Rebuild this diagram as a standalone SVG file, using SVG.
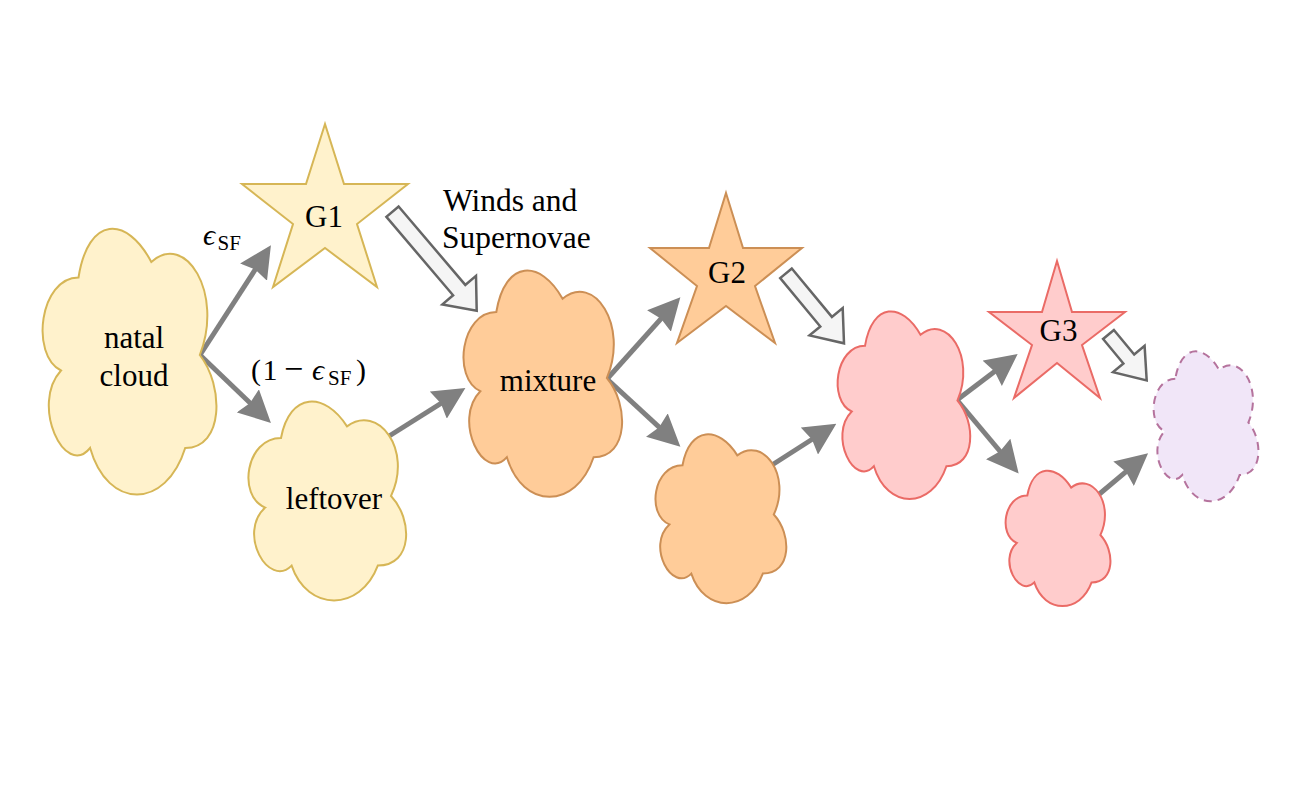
<svg xmlns="http://www.w3.org/2000/svg" width="1308" height="789" viewBox="0 0 1308 789">
<style>
  .txt { font-family: "Liberation Serif", "Times New Roman", serif; font-size: 31px; fill: #000; }
  .math { font-family: "Liberation Serif", "DejaVu Serif", serif; font-size: 30px; fill: #000; }
  .it { font-style: italic; }
  .sub { font-size: 21px; }
  .yellow { fill: #fff2cc; stroke: #d6b656; stroke-width: 2; }
  .orange { fill: #ffcc99; stroke: #cc8f55; stroke-width: 2; }
  .pink { fill: #ffcccc; stroke: #ea6b66; stroke-width: 2; }
  .purple { fill: #f1e6f8; stroke: #b5739d; stroke-width: 2; stroke-dasharray: 8 6; }
  .link { fill: none; stroke: #808080; stroke-width: 5; marker-end: url(#head); }
  .block { fill: #f5f5f5; stroke: #666666; stroke-width: 2.5; stroke-linejoin: miter; }
</style>
<defs>
  <marker id="head" markerUnits="userSpaceOnUse" markerWidth="32" markerHeight="32" viewBox="0 0 31 31" refX="19" refY="15.5" orient="auto">
    <path d="M0 0 L31 15.5 L0 31 L3 15.5 Z" fill="#808080"/>
  </marker>
</defs>
<rect width="1308" height="789" fill="#ffffff"/>

<g id="connectors">
  <line class="link" x1="200" y1="355" x2="264.2" y2="255.6"/>
  <line class="link" x1="200" y1="355" x2="262.0" y2="414.4"/>
  <line class="link" x1="386" y1="438" x2="454.9" y2="394.7"/>
  <line class="link" x1="607" y1="379" x2="672.1" y2="306.4"/>
  <line class="link" x1="607" y1="379" x2="671.3" y2="438.4"/>
  <line class="link" x1="772" y1="465" x2="825.9" y2="430.5"/>
  <line class="link" x1="957" y1="400" x2="1007.8" y2="361.4"/>
  <line class="link" x1="957" y1="400" x2="1010.7" y2="464.0"/>
  <line class="link" x1="1097" y1="496" x2="1138.6" y2="461.1"/>
  <polygon class="block" points="398.6,206.5 465.3,284.9 476,275.8 476.7,310.7 442.4,304.4 453.1,295.3 386.4,216.9"/>
  <polygon class="block" points="791.8,268.5 831.9,316.9 842.7,308 844,343.3 809.5,335.4 820.3,326.5 780.2,278.1"/>
  <polygon class="block" points="1113.9,330 1134.2,354.5 1144.6,345.9 1146.7,380.5 1113,372.1 1123.4,363.5 1103.1,339"/>
</g>

<g id="natal-cloud">
  <path class="yellow" d="M78.5 277.5 C39.7 277.5 30 355 61 370.5 C30 404.6 64.9 479 90.1 448 C107.6 510 165.8 510 185.2 448 C224 448 224 386 199.8 355 C224 293 185.2 231 151.3 262 C127 215.5 88.2 215.5 78.5 277.5 Z"/>
  <text class="txt" x="134" y="348" text-anchor="middle">natal</text>
  <text class="txt" x="134" y="386" text-anchor="middle">cloud</text>
</g>

<g id="g1">
  <polygon class="yellow" points="325,124 344,184 408,184 357,224 377,287 325,248 273,287 293,224 242,184 306,184"/>
  <text class="txt" x="324" y="227" text-anchor="middle">G1</text>
</g>

<g id="leftover">
  <path class="yellow" d="M281 438 C245.8 438 237 496 265.2 507.6 C237 533.1 268.7 588.8 291.6 565.6 C307.4 612 360.2 612 377.8 565.6 C413 565.6 413 519.2 391 496 C413 449.6 377.8 403.2 347 426.4 C325 391.6 289.8 391.6 281 438 Z"/>
  <text class="txt" x="334" y="509" text-anchor="middle">leftover</text>
</g>

<g id="mixture">
  <path class="orange" d="M496.3 312 C460.9 312 452 378 480.3 391.2 C452 420.2 483.9 483.6 506.9 457.2 C522.8 510 575.9 510 593.6 457.2 C629 457.2 629 404.4 606.9 378 C629 325.2 593.6 272.4 562.6 298.8 C540.5 259.2 505.1 259.2 496.3 312 Z"/>
  <text class="txt" x="548" y="391" text-anchor="middle">mixture</text>
</g>

<g id="g2">
  <polygon class="orange" points="726,193 743,248 802,248 755,286 775,343 726,306 677,343 697,286 650,248 709,248"/>
  <text class="txt" x="727" y="283" text-anchor="middle">G2</text>
</g>

<g id="orange-small">
  <path class="orange" d="M682.5 465.3 C653.3 465.3 646 514.5 669.4 524.4 C646 546 672.3 593.3 691.3 573.6 C704.4 613 748.2 613 762.8 573.6 C792 573.6 792 534.2 773.8 514.5 C792 475.1 762.8 435.7 737.3 455.4 C719 425.9 689.8 425.9 682.5 465.3 Z"/>
</g>

<g id="pink-large">
  <path class="pink" d="M865 345.8 C835.4 345.8 828 400.5 851.7 411.5 C828 435.5 854.6 488.1 873.9 466.2 C887.2 510 931.6 510 946.4 466.2 C976 466.2 976 422.4 957.5 400.5 C976 356.7 946.4 312.9 920.5 334.8 C902 302 872.4 302 865 345.8 Z"/>
</g>

<g id="g3">
  <polygon class="pink" points="1057,261 1072,312 1125,312 1082,345 1100,398 1057,363 1014,398 1032,345 989,312 1042,312"/>
  <text class="txt" x="1058.5" y="341" text-anchor="middle">G3</text>
</g>

<g id="pink-small">
  <path class="pink" d="M1027.3 495.5 C1003.9 495.5 998 535 1016.7 542.9 C998 560.3 1019.1 598.2 1034.3 582.4 C1044.8 614 1079.9 614 1091.6 582.4 C1115 582.4 1115 550.8 1100.4 535 C1115 503.4 1091.6 471.8 1071.1 487.6 C1056.5 463.9 1033.1 463.9 1027.3 495.5 Z"/>
</g>

<g id="purple-dashed">
  <path class="purple" d="M1175.3 378.8 C1151.9 378.8 1146 422.5 1164.7 431.3 C1146 450.5 1167.1 492.5 1182.3 475 C1192.8 510 1227.9 510 1239.6 475 C1263 475 1263 440 1248.4 422.5 C1263 387.5 1239.6 352.5 1219.1 370 C1204.5 343.8 1181.1 343.8 1175.3 378.8 Z"/>
</g>

<g id="labels">
  <text class="txt" x="443" y="211" style="font-size:31.5px">Winds and</text>
  <text class="txt" x="442" y="248" style="font-size:31.5px">Supernovae</text>
  <text class="math"><tspan class="it" x="203" y="245">ϵ</tspan><tspan class="sub" x="217.5" y="250">SF</tspan></text>
  <text class="math"><tspan x="251" y="380">(</tspan><tspan x="262.4" y="380">1</tspan><tspan x="293.7" y="380" text-anchor="middle" style="font-size:34px">−</tspan><tspan class="it" x="312" y="380">ϵ</tspan><tspan class="sub" x="328" y="385">SF</tspan><tspan x="356" y="380">)</tspan></text>
</g>
</svg>
